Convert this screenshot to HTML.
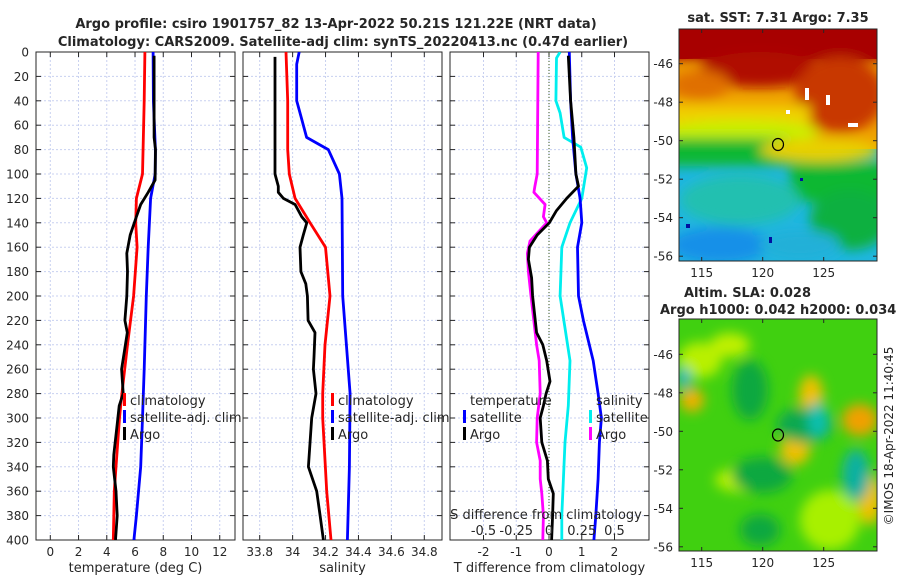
<!DOCTYPE html>
<html><head><meta charset="utf-8"><style>
body{margin:0;background:#fff;}
svg text{font-family:"DejaVu Sans","Liberation Sans",sans-serif;fill:#262626;}
</style></head><body>
<svg id="fig" width="900" height="580" xmlns="http://www.w3.org/2000/svg">
<defs>
<filter id="blur6" x="-50%" y="-50%" width="200%" height="200%"><feGaussianBlur stdDeviation="6"/></filter>
<clipPath id="m1clip"><rect x="679" y="29" width="198" height="232"/></clipPath>
<clipPath id="m2clip"><rect x="679" y="319" width="198" height="232"/></clipPath>
<clipPath id="c1"><rect x="36" y="52" width="199" height="488"/></clipPath>
<clipPath id="c2"><rect x="243" y="52" width="199" height="488"/></clipPath>
<clipPath id="c3"><rect x="450" y="52" width="199" height="488"/></clipPath>
</defs>
<text x="336" y="28" text-anchor="middle" font-size="13" font-weight="bold">Argo profile: csiro 1901757_82 13-Apr-2022 50.21S 121.22E (NRT data)</text>
<text x="343" y="46" text-anchor="middle" font-size="13" font-weight="bold">Climatology: CARS2009. Satellite-adj clim: synTS_20220413.nc (0.47d earlier)</text>
<g id="p1"></g>
<g id="p2"></g>
<g id="p3"></g>

<g>
<text x="778" y="22" text-anchor="middle" font-size="13" font-weight="bold">sat. SST: 7.31 Argo: 7.35</text>
<g clip-path="url(#m1clip)">
<rect x="679" y="29" width="198" height="232" fill="#1fb6e0"/>
<rect x="679" y="29" width="198" height="120" fill="#f0a000"/>
<rect x="679" y="29" width="198" height="30" fill="#a80000"/>
<g filter="url(#blur6)">
<rect x="660" y="20" width="240" height="40" fill="#a80000"/>
<ellipse cx="760" cy="70" rx="60" ry="18" fill="#b01000"/>
<ellipse cx="840" cy="95" rx="45" ry="38" fill="#c83800"/>
<ellipse cx="700" cy="85" rx="30" ry="15" fill="#e07000"/>
<rect x="660" y="105" width="150" height="28" fill="#f0d000"/>
<ellipse cx="740" cy="132" rx="80" ry="12" fill="#c8f000"/>
<rect x="660" y="138" width="130" height="28" fill="#10b830"/>
<ellipse cx="820" cy="150" rx="60" ry="12" fill="#e8d000"/>
<rect x="790" y="162" width="100" height="40" fill="#10b830"/>
<ellipse cx="850" cy="220" rx="40" ry="30" fill="#10b040"/>
<ellipse cx="740" cy="200" rx="60" ry="25" fill="#20c0b0"/>
<ellipse cx="720" cy="245" rx="50" ry="18" fill="#1890e8"/>
<ellipse cx="800" cy="245" rx="40" ry="15" fill="#20b0d8"/>
</g>
<rect x="805" y="88" width="4" height="12" fill="#fff"/><rect x="826" y="95" width="4" height="10" fill="#fff"/><rect x="848" y="123" width="10" height="4" fill="#fff"/><rect x="786" y="110" width="4" height="4" fill="#fff"/>
<rect x="800" y="178" width="3" height="3" fill="#0010a0"/><rect x="769" y="237" width="3" height="6" fill="#0010a0"/><rect x="686" y="224" width="4" height="4" fill="#0010a0"/>
</g>
<rect x="679" y="29" width="198" height="232" fill="none" stroke="#262626" stroke-width="1"/>
<ellipse cx="778" cy="144.5" rx="5.5" ry="6" fill="none" stroke="#000" stroke-width="1.2"/>
<g id="m1axes"></g>
</g>

<g>
<text x="684" y="297" font-size="13" font-weight="bold">Altim. SLA: 0.028</text>
<text x="660" y="314" font-size="13" font-weight="bold">Argo h1000: 0.042 h2000: 0.034</text>
<g clip-path="url(#m2clip)">
<rect x="679" y="319" width="198" height="232" fill="#40d010"/>
<g filter="url(#blur6)">
<ellipse cx="700" cy="360" rx="22" ry="18" fill="#b8f000"/>
<ellipse cx="730" cy="345" rx="20" ry="12" fill="#c0f000"/>
<ellipse cx="811" cy="395" rx="12" ry="20" fill="#f0c000"/>
<ellipse cx="692" cy="400" rx="12" ry="12" fill="#f0b000"/>
<ellipse cx="860" cy="420" rx="18" ry="16" fill="#f0a000"/>
<ellipse cx="795" cy="450" rx="15" ry="15" fill="#f0c000"/>
<ellipse cx="740" cy="480" rx="25" ry="12" fill="#b8f000"/>
<ellipse cx="870" cy="500" rx="12" ry="25" fill="#f0c000"/>
<ellipse cx="830" cy="520" rx="30" ry="30" fill="#a8f000"/>
<ellipse cx="750" cy="390" rx="18" ry="30" fill="#10a840"/>
<ellipse cx="805" cy="425" rx="28" ry="18" fill="#10a850"/>
<ellipse cx="818" cy="420" rx="10" ry="18" fill="#10c0b0"/>
<ellipse cx="762" cy="475" rx="30" ry="18" fill="#10a840"/>
<ellipse cx="856" cy="475" rx="14" ry="26" fill="#10b0a0"/>
<ellipse cx="684" cy="378" rx="6" ry="10" fill="#10b0e0"/>
<ellipse cx="760" cy="530" rx="20" ry="16" fill="#10a840"/>
</g>
</g>
<rect x="679" y="319" width="198" height="232" fill="none" stroke="#262626" stroke-width="1"/>
<ellipse cx="778" cy="435" rx="5.5" ry="6" fill="none" stroke="#000" stroke-width="1.2"/>
<g id="m2axes"></g>
<text transform="translate(893,436) rotate(-90)" text-anchor="middle" font-size="12">©IMOS 18-Apr-2022 11:40:45</text>
</g>
</svg>
<script>
const tDepth = [0,40,100,120,140,160,200,240,280,300,340,360,400];
const tClim  = [6.7,6.65,6.53,6.1,6.05,6.15,5.9,5.47,5.07,4.9,4.65,4.53,4.46];
const satDepth = [0,40,80,100,120,160,200,260,300,340,380,400];
const tSat   = [7.28,7.3,7.44,7.43,7.1,6.93,6.8,6.65,6.53,6.4,6.1,5.92];
const argoDepth = [3,70,80,105,115,125,135,150,165,180,200,220,230,260,280,290,305,330,340,360,380,400];
const tArgo  = [7.35,7.35,7.45,7.42,6.93,6.4,6.1,5.66,5.42,5.47,5.42,5.28,5.45,5.05,5.16,4.88,4.74,4.5,4.46,4.65,4.74,4.62];
const sArgoDepth = [4,100,110,115,120,125,135,140,150,160,180,190,200,220,230,250,260,280,300,340,360,380,400];
const sArgo = [33.893,33.893,33.913,33.913,33.944,34.015,34.055,34.086,34.065,34.045,34.05,34.08,34.09,34.094,34.136,34.13,34.126,34.142,34.116,34.096,34.146,34.167,34.187];
const sClimDepth = [0,40,80,100,120,140,160,200,240,280,300,360,400];
const sClim = [33.96,33.97,33.97,33.98,34.015,34.106,34.2,34.227,34.197,34.183,34.183,34.207,34.233];
const sSatDepth = [0,10,40,55,70,80,100,120,200,280,340,400];
const sSat = [34.04,34.025,34.025,34.055,34.085,34.217,34.284,34.3,34.304,34.349,34.345,34.333];
// salinity differences, in S units (plotted x4 on the T-difference axis)
const dSDepth = [0,100,110,115,125,135,140,155,165,180,200,240,253,280,300,320,335,350,362,380,400];
const dSArgo = [-0.0825,-0.09,-0.1075,-0.115,-0.03,-0.0425,-0.0175,-0.145,-0.165,-0.1575,-0.1375,-0.095,-0.075,-0.0675,-0.09,-0.095,-0.0675,-0.0675,-0.055,-0.0425,-0.0475];
const dTArgoDepth = [3,40,70,100,110,120,130,140,150,160,170,185,200,230,240,253,270,280,290,300,320,335,350,362,380,400];
const dTArgo = [0.59,0.66,0.76,0.82,0.9,0.54,0.23,0.01,-0.36,-0.6,-0.63,-0.53,-0.5,-0.38,-0.19,-0.07,0.03,-0.09,-0.17,-0.27,-0.22,-0.05,-0.02,0.13,0.11,0.08];
const dTSatDepth = [0,40,70,100,120,140,160,200,220,253,280,300,320,350,380,400];
const dTSat = [0.62,0.66,0.72,0.82,0.95,1.0,0.87,0.9,1.05,1.35,1.5,1.6,1.54,1.5,1.43,1.37];
const dSSatDepth = [0,5,40,50,70,78,95,120,140,160,200,253,290,320,350,380,400];
const dSSat = [0.085,0.0575,0.0525,0.085,0.115,0.2425,0.2875,0.25,0.16,0.0975,0.085,0.16,0.1475,0.1225,0.11,0.0975,0.0975];
const depthTicks = [0,20,40,60,80,100,120,140,160,180,200,220,240,260,280,300,320,340,360,380,400];
const tTicks = [0,2,4,6,8,10,12];
const sTicks = [33.8,34,34.2,34.4,34.6,34.8];
const dTicks = [-2,-1,0,1,2];
const dSTickLabels = ['-0.5','-0.25','0','0.25','0.5'];
const dSTickVals = [-0.5,-0.25,0,0.25,0.5];
const lonTicks = [115,120,125];
const latTicks = [-46,-48,-50,-52,-54,-56];

const NS='http://www.w3.org/2000/svg';
function mk(tag,attrs,parent){const e=document.createElementNS(NS,tag);for(const k in attrs)e.setAttribute(k,attrs[k]);parent.appendChild(e);return e;}
const Y0=52,Y1=540;
const yD = d => Y0 + d*(Y1-Y0)/400;

function panel(g,x0,x1,xmin,xmax,xticks,xlabel){
  const xs = v => x0 + (v-xmin)*(x1-x0)/(xmax-xmin);
  xticks.forEach(v=>{const l=mk('line',{x1:xs(v),x2:xs(v),y1:Y0,y2:Y1,stroke:'#c8d0f0','stroke-dasharray':'2,2','stroke-width':1},g);
    
    });
  depthTicks.forEach(d=>{const l=mk('line',{x1:x0,x2:x1,y1:yD(d),y2:yD(d),stroke:'#c8d0f0','stroke-dasharray':'2,2','stroke-width':1},g);
    
    });
  depthTicks.forEach(d=>{mk('line',{x1:x0,x2:x0+5,y1:yD(d),y2:yD(d),stroke:'#262626'},g);mk('line',{x1:x1-5,x2:x1,y1:yD(d),y2:yD(d),stroke:'#262626'},g);});
  xticks.forEach(v=>{mk('line',{x1:xs(v),x2:xs(v),y1:Y1,y2:Y1-5,stroke:'#262626'},g);mk('line',{x1:xs(v),x2:xs(v),y1:Y0,y2:Y0+5,stroke:'#262626'},g);
    const t=mk('text',{x:xs(v),y:Y1+16,'text-anchor':'middle','font-size':12},g);t.textContent=String(v);
    
    });
  const xl=mk('text',{x:(x0+x1)/2,y:572,'text-anchor':'middle','font-size':13},g);xl.textContent=xlabel;
  
  
  mk('rect',{x:x0,y:Y0,width:x1-x0,height:Y1-Y0,fill:'none',stroke:'#262626','stroke-width':1},g);
  return xs;
}
function line(g,xs,vals,depths,color,name,scale){
  scale=scale||1;
  const pts=vals.map((v,i)=>xs(v*scale).toFixed(1)+','+yD(depths[i]).toFixed(1)).join(' ');
  const p=mk('polyline',{points:pts,fill:'none',stroke:color,'stroke-width':2.8,'stroke-linejoin':'round'},g);
  
  
}
function legend(g,x,rows){
  rows.forEach((r,i)=>{const y=400+17*i;
    if(r[1]) mk('rect',{x:x-7,y:y-7,width:3,height:13,fill:r[1]},g);
    const t=mk('text',{x:x,y:y+5,'font-size':13},g);t.textContent=r[0];
    
    });
}
const p1=document.getElementById('p1');
depthTicks.forEach(d=>{const t=mk('text',{x:29,y:yD(d)+4.5,'text-anchor':'end','font-size':12},p1);t.textContent=d;
  
  });
const xs1=panel(p1,36,235,(36-50.3)/14.12,(235-50.3)/14.12,tTicks,'temperature (deg C)');
const g1=mk('g',{'clip-path':'url(#c1)'},p1);
line(g1,xs1,tClim,tDepth,'#ff0000','temp-climatology-line');
line(g1,xs1,tSat,satDepth,'#0000ff','temp-satellite-line');
line(g1,xs1,tArgo,argoDepth,'#000000','temp-argo-line');
legend(p1,130,[['climatology','#f00'],['satellite-adj. clim','#00f'],['Argo','#000']]);

const p2=document.getElementById('p2');
const xs2=panel(p2,243,442,33.8+(243-259.7)/164.6,33.8+(442-259.7)/164.6,sTicks,'salinity');
const g2=mk('g',{'clip-path':'url(#c2)'},p2);
line(g2,xs2,sClim,sClimDepth,'#ff0000','sal-climatology-line');
line(g2,xs2,sSat,sSatDepth,'#0000ff','sal-satellite-line');
line(g2,xs2,sArgo,sArgoDepth,'#000000','sal-argo-line');
legend(p2,338,[['climatology','#f00'],['satellite-adj. clim','#00f'],['Argo','#000']]);

const p3=document.getElementById('p3');
const xs3=panel(p3,450,649,(450-549)/32.75,(649-549)/32.75,dTicks,'T difference from climatology');
mk('line',{x1:xs3(0),x2:xs3(0),y1:Y0,y2:Y1,stroke:'#3a5a20','stroke-dasharray':'1,2','stroke-width':1},p3);
const g3=mk('g',{'clip-path':'url(#c3)'},p3);
line(g3,xs3,dSArgo,dSDepth,'#ff00ff','sal-diff-argo-line',4);
line(g3,xs3,dSSat,dSSatDepth,'#00eeee','sal-diff-satellite-line',4);
line(g3,xs3,dTSat,dTSatDepth,'#0000ff','temp-diff-satellite-line');
line(g3,xs3,dTArgo,dTArgoDepth,'#000000','temp-diff-argo-line');
legend(p3,470,[['temperature',null],['satellite','#00f'],['Argo','#000']]);
legend(p3,596,[['salinity',null],['satellite','#0ee'],['Argo','#f0f']]);
const st=mk('text',{x:546,y:519,'text-anchor':'middle','font-size':13},p3);st.textContent='S difference from climatology';


dSTickVals.forEach((v,i)=>{const t=mk('text',{x:xs3(v*4),y:535,'text-anchor':'middle','font-size':13},p3);t.textContent=dSTickLabels[i];
  
  });

function mapAxes(g,yTop,yBot,latA){
  const lx=v=>701.7+(v-115)*12.2;
  const ly=v=>latA+(-46-v)*(19.25);
  lonTicks.forEach(v=>{mk('line',{x1:lx(v),x2:lx(v),y1:yBot,y2:yBot-4,stroke:'#262626'},g);mk('line',{x1:lx(v),x2:lx(v),y1:yTop,y2:yTop+4,stroke:'#262626'},g);
    const t=mk('text',{x:lx(v),y:yBot+16,'text-anchor':'middle','font-size':12},g);t.textContent=v;
    
    });
  latTicks.forEach(v=>{mk('line',{x1:679,x2:683,y1:ly(v),y2:ly(v),stroke:'#262626'},g);mk('line',{x1:873,x2:877,y1:ly(v),y2:ly(v),stroke:'#262626'},g);
    const t=mk('text',{x:673,y:ly(v)+4.5,'text-anchor':'end','font-size':12},g);t.textContent=v;
    
    });
}
mapAxes(document.getElementById('m1axes'),29,261,63.7);
mapAxes(document.getElementById('m2axes'),319,551,354.3);
</script>
</body></html>
